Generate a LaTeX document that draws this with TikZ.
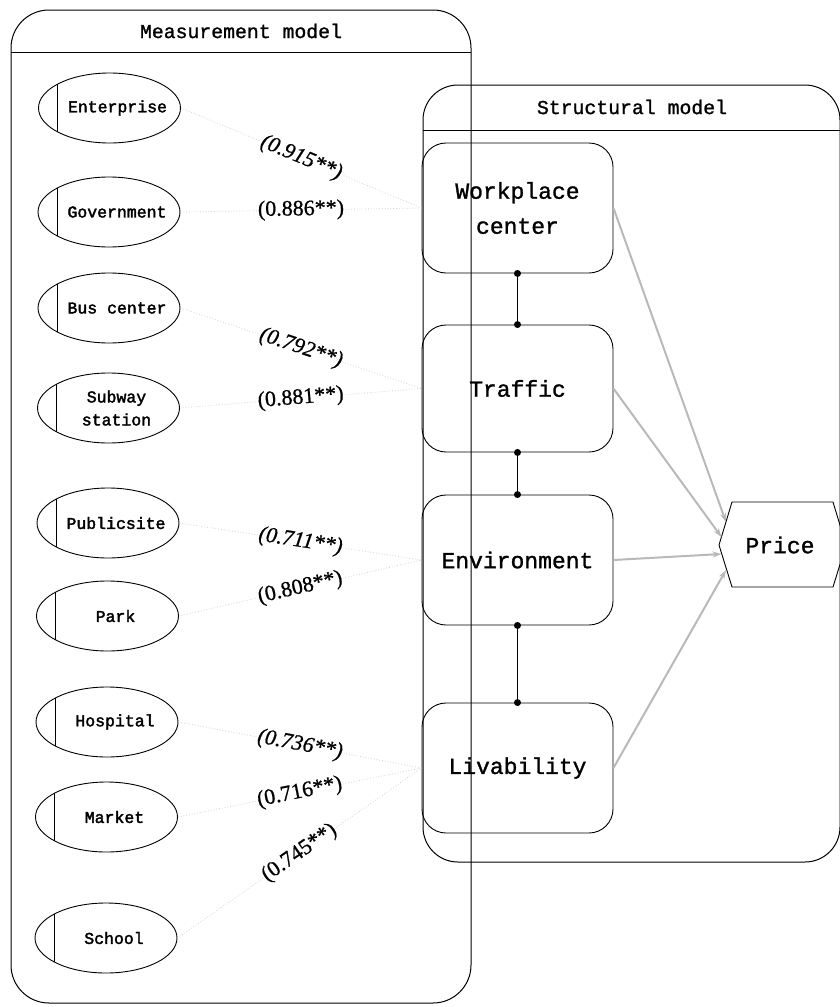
\documentclass[tikz,border=0pt]{standalone}
\usepackage{fontspec}
\setmainfont{Liberation Serif}
\setmonofont{Liberation Mono}
\newfontfamily\monoA{Liberation Mono}[FakeBold=1.2]
\newfontfamily\monoB{Liberation Mono}[FakeBold=2.2]
\newfontfamily\serifA{Liberation Serif}[FakeBold=0.8]
\usetikzlibrary{shapes.geometric,arrows.meta}
\begin{document}
\begin{tikzpicture}[x=1pt,y=-1pt,
  frame/.style={draw, line width=1pt, inner sep=0pt},
  title/.style={font=\monoA\fontsize{19.8}{22}\selectfont},
  meas/.style={ellipse, draw, line width=0.9pt, minimum width=142pt, minimum height=70pt, inner sep=0pt},
  mtext/.style={font=\monoB\fontsize{16.5}{23}\selectfont, align=center, inner sep=0pt},
  latent/.style={draw, line width=0.9pt, rounded corners=24pt, minimum width=191pt, align=center,
                 font=\monoA\fontsize{23}{35}\selectfont},
  coef/.style={font=\serifA\fontsize{22}{24}\selectfont, sloped, pos=0.5, fill=white, inner sep=1pt},
  faint/.style={draw=gray!35, dotted, line width=0.8pt},
  effect/.style={draw=gray!55, line width=2pt, -{Stealth[length=9pt,width=6pt]}},
  link/.style={line width=1.2pt},
  dot/.style={circle, fill, inner sep=0pt, minimum size=7pt}
]
\useasboundingbox (0,0) rectangle (840,1007);

% frames
\node[frame, rounded corners=38pt, minimum width=460pt, minimum height=993pt] (mm) at (241,506.5) {};
\draw[line width=1pt] (11,52) -- (471,52);
\node[title] (mt) at (241,31) {Measurement model};

\node[frame, rounded corners=35pt, minimum width=417pt, minimum height=777pt] (sm) at (631.5,473.5) {};
\draw[line width=1pt] (423,130) -- (840,130);
\node[title] (st) at (632,107) {Structural model};

% measurement ellipses
\foreach \n/\x/\y/\t in {e1/109.5/108/Enterprise, e2/109/212/Government, e3/109/308/Bus center,
  e4/108.5/408/{Subway\\station}, e5/108/523/Publicsite, e6/107.5/616/Park, e7/107/722/Hospital,
  e8/106.5/817/Market, e9/106/938/School}{
  \node[meas] (\n) at (\x,\y) {};
  \node[mtext] (t\n) at ([xshift=8pt]\n.center) {\t};
  \draw[line width=0.9pt] ([shift={(-52pt,-24pt)}]\n.center) -- ([shift={(-52pt,24pt)}]\n.center);
}

% latent boxes
\node[latent, minimum height=130pt] (b1) at (517.5,208) {Workplace\\center};
\node[latent, minimum height=127pt] (b2) at (517.5,388.5) {Traffic};
\node[latent, minimum height=130pt] (b3) at (517.5,560) {Environment};
\node[latent, minimum height=130pt] (b4) at (517.5,768) {Livability};

% links between latent boxes
\draw[link] (b1.south) -- (b2.north);
\draw[link] (b2.south) -- (b3.north);
\draw[link] (b3.south) -- (b4.north);
\foreach \p in {b1.south,b2.north,b2.south,b3.north,b3.south,b4.north}{
  \node[dot] at (\p) {};
}

% loadings
\draw[faint] (e1.east) -- (b1.west) node[coef]{\itshape(0.915**)};
\draw[faint] (e2.east) -- (b1.west) node[coef]{(0.886**)};
\draw[faint] (e3.east) -- (b2.west) node[coef]{\itshape(0.792**)};
\draw[faint] (e4.east) -- (b2.west) node[coef]{(0.881**)};
\draw[faint] (e5.east) -- (b3.west) node[coef]{\itshape(0.711**)};
\draw[faint] (e6.east) -- (b3.west) node[coef]{(0.808**)};
\draw[faint] (e7.east) -- (b4.west) node[coef]{\itshape(0.736**)};
\draw[faint] (e8.east) -- (b4.west) node[coef]{(0.716**)};
\draw[faint] (e9.east) -- (b4.west) node[coef]{(0.745**)};

% price
\node[font=\monoA\fontsize{23}{26}\selectfont] (price) at (780,545) {Price};
\draw[line width=0.9pt] (719,545) -- (732,502) -- (833,502) -- (846,545) -- (833,587) -- (732,587) -- cycle;
\coordinate (p1) at (726,522);
\coordinate (p2) at (721.5,537);
\coordinate (p3) at (721.5,554);
\coordinate (p4) at (726,570);
\draw[effect] (b1.east) -- (p1);
\draw[effect] (b2.east) -- (p2);
\draw[effect] (b3.east) -- (p3);
\draw[effect] (b4.east) -- (p4);
\end{tikzpicture}
\end{document}
